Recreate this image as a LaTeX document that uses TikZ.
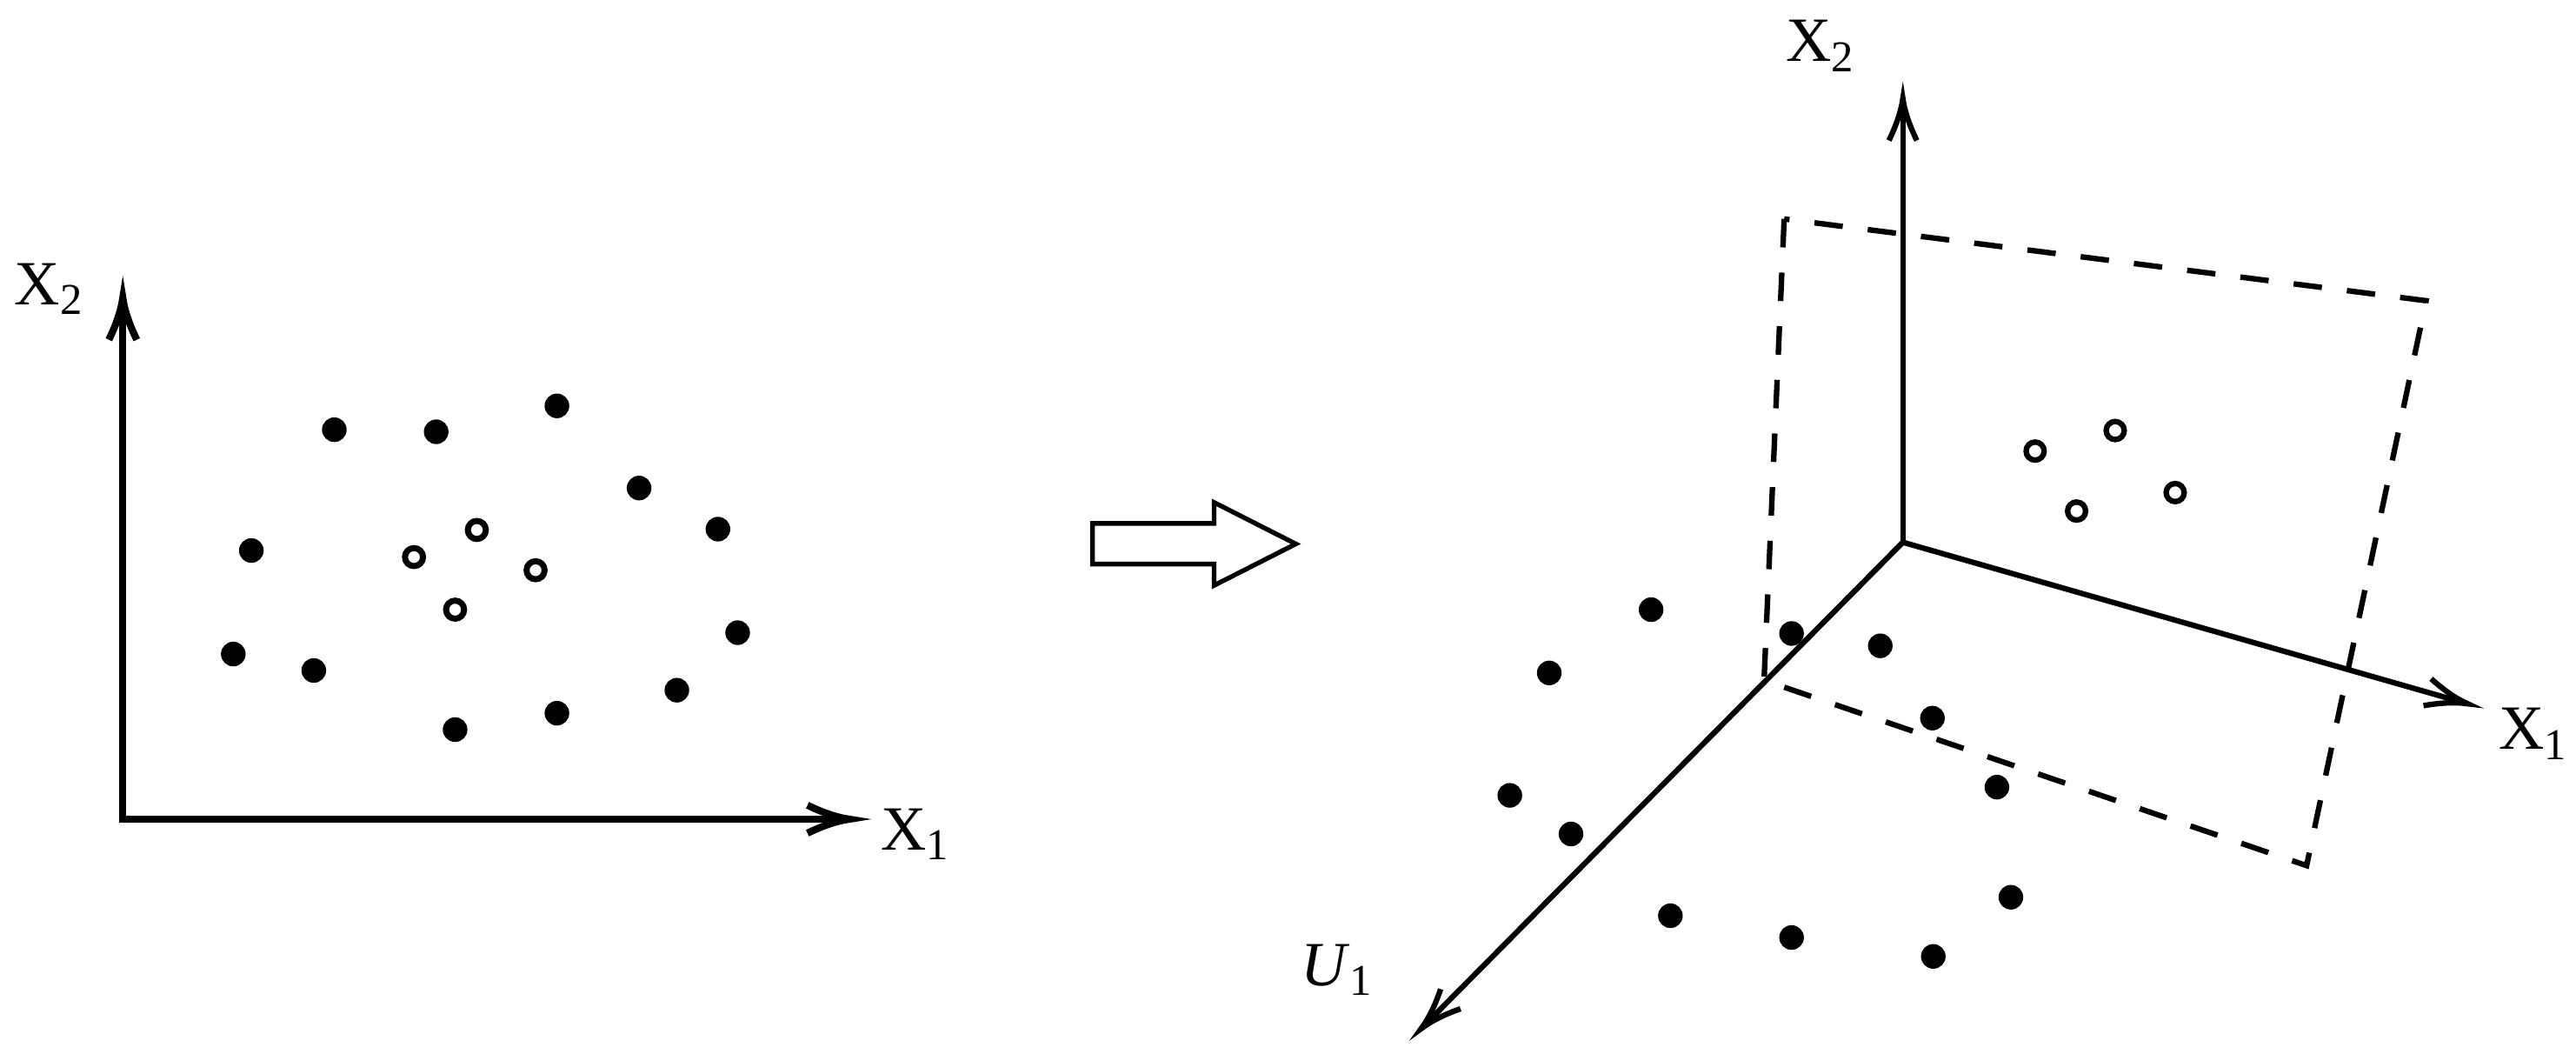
\documentclass[tikz,border=0pt]{standalone}
\usepackage{fontspec}
\setmainfont{Liberation Serif}
\usetikzlibrary{calc}
\tikzset{lbl/.style={anchor=base west,inner sep=0pt,font=\fontsize{11.5}{14}\selectfont},
    fdot/.style={fill=black,draw=none},
    hdot/.style={draw=black,fill=white,line width=1.1pt},
    quad/.style={dash pattern={on 5.2pt off 4.6pt},line width=1pt}}
\begin{document}
\begin{tikzpicture}[x=0.75pt,y=0.75pt,yscale=-1,xscale=1]
\useasboundingbox (0,0) rectangle (627.2,256.35);

%Shape: Axis 2D (left)
\coordinate (oL) at (29.9,199.4);
\coordinate (tipL2) at (29.9,72.5);
\coordinate (tipL1) at (206.8,199.4);
\draw [line width=1.3pt,shorten >=1pt] (oL) -- (tipL2) ;
\draw [shift={(tipL2)}, rotate = 90] [line width=1.3pt]    (10.2,-3.4) .. controls (6.5,-1.6) and (3,-0.4) .. (0,0) .. controls (3,0.4) and (6.5,1.6) .. (10.2,3.4)   ;
\draw [line width=1.3pt,shorten >=1pt] ([xshift=-0.65pt]oL) -- (tipL1) ;
\draw [shift={(tipL1)}, rotate = 180] [line width=1.3pt]    (10.2,-3.4) .. controls (6.5,-1.6) and (3,-0.4) .. (0,0) .. controls (3,0.4) and (6.5,1.6) .. (10.2,3.4)   ;

%Shape: Circle (left, filled)
\draw [fdot] (81.4,104.6) circle (3) ;
\draw [fdot] (106.2,105.1) circle (3) ;
\draw [fdot] (135.6,98.8) circle (3) ;
\draw [fdot] (155.6,118.8) circle (3) ;
\draw [fdot] (174.8,128.8) circle (3) ;
\draw [fdot] (61.2,134) circle (3) ;
\draw [fdot] (56.8,159.2) circle (3) ;
\draw [fdot] (76.4,163.2) circle (3) ;
\draw [fdot] (179.6,154) circle (3) ;
\draw [fdot] (164.8,168) circle (3) ;
\draw [fdot] (135.6,173.6) circle (3) ;
\draw [fdot] (110.8,177.6) circle (3) ;
%Shape: Circle (left, hollow)
\draw [hdot] (116.1,129) circle (2.2) ;
\draw [hdot] (100.8,135.6) circle (2.2) ;
\draw [hdot] (130.4,138.8) circle (2.2) ;
\draw [hdot] (110.8,148.4) circle (2.2) ;

%Shape: Right Arrow
\draw [line width=0.85pt]  (266,127.4) -- (295.6,127.4) -- (295.6,122.3) -- (315.5,132.4) -- (295.6,142.5) -- (295.6,137.3) -- (266,137.3) -- cycle ;

%Shape: Dashed plane
\coordinate (qTL) at (434.4,53.3);
\coordinate (qTR) at (590.7,73.2);
\coordinate (qBR) at (561.6,210.7);
\coordinate (qBL) at (429.5,165.6);
\draw [quad] (qTL) -- (qBL) -- (qBR) -- (qTR) -- cycle ;

%Shape: Axis 3D (right)
\coordinate (oR) at (463.3,132);
\coordinate (tipR2) at (463.3,24);
\coordinate (tipR1) at (600.8,171.3);
\coordinate (tipU1) at (346,250.4);
\draw [line width=1pt,shorten >=1pt] (oR) -- (tipR2) ;
\draw [shift={(tipR2)}, rotate = 90] [line width=1pt]    (10.2,-3.4) .. controls (6.5,-1.6) and (3,-0.4) .. (0,0) .. controls (3,0.4) and (6.5,1.6) .. (10.2,3.4)   ;
\draw [line width=1pt,shorten >=1pt] (oR) -- (tipR1) ;
\draw [shift={(tipR1)}, rotate = 195.95] [line width=1pt]    (10.2,-3.4) .. controls (6.5,-1.6) and (3,-0.4) .. (0,0) .. controls (3,0.4) and (6.5,1.6) .. (10.2,3.4)   ;
\draw [line width=1pt,shorten >=1pt] (oR) -- (tipU1) ;
\draw [shift={(tipU1)}, rotate = 314.73] [line width=1pt]    (10.2,-3.4) .. controls (6.5,-1.6) and (3,-0.4) .. (0,0) .. controls (3,0.4) and (6.5,1.6) .. (10.2,3.4)   ;

%Shape: Circle (right, filled)
\draw [fdot] (402,148.4) circle (3) ;
\draw [fdot] (377.2,163.8) circle (3) ;
\draw [fdot] (436.2,154.2) circle (3) ;
\draw [fdot] (457.8,157.2) circle (3) ;
\draw [fdot] (470.5,174.8) circle (3) ;
\draw [fdot] (486.2,191.6) circle (3) ;
\draw [fdot] (367.6,193.6) circle (3) ;
\draw [fdot] (382.5,203) circle (3) ;
\draw [fdot] (489.6,218.4) circle (3) ;
\draw [fdot] (406.7,222.9) circle (3) ;
\draw [fdot] (436.2,228.2) circle (3) ;
\draw [fdot] (470.7,232.8) circle (3) ;
%Shape: Circle (right, hollow)
\draw [hdot,line width=1pt] (495.5,109.8) circle (2.2) ;
\draw [hdot,line width=1pt] (515,104.8) circle (2.2) ;
\draw [hdot,line width=1pt] (529.6,119.9) circle (2.2) ;
\draw [hdot,line width=1pt] (505.6,124.4) circle (2.2) ;

% Text Node
\node [lbl] (lblL2) at (3.3,74.1) {X\textsubscript{2}};
% Text Node
\node [lbl] (lblL1) at (214.2,206.9) {X\textsubscript{1}};
% Text Node
\node [lbl] (lblR2) at (434.6,15) {X\textsubscript{2}};
% Text Node
\node [lbl] (lblR1) at (608.2,182.4) {X\textsubscript{1}};
% Text Node
\node [lbl] (lblU1) at (316.5,239.9) {\textit{U}\textsubscript{1}};

\end{tikzpicture}
\end{document}
